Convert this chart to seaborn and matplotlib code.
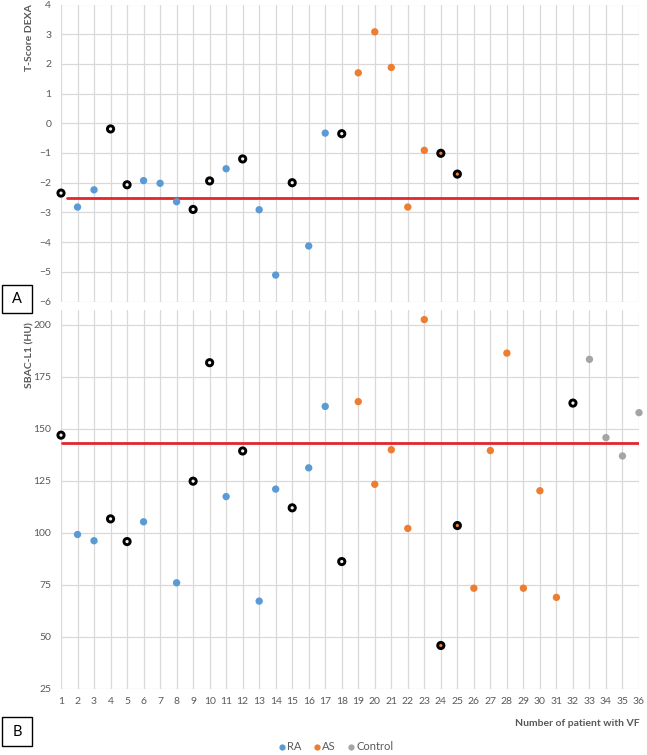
import numpy as np
import pandas as pd
import matplotlib
matplotlib.use("Agg")
import matplotlib.pyplot as plt
import matplotlib.patches as mpatches
from matplotlib.lines import Line2D
import seaborn as sns

# --- data ---
groups = ["RA", "AS", "Control"]
group_colors = {"RA": "#5B9BD5", "AS": "#ED7D31", "Control": "#A5A5A5"}

# panel A: T-score DEXA
patients_a = list(range(1, 26))
tscore = [-2.35, -2.82, -2.24, -0.19, -2.07, -1.93, -2.02, -2.64, -2.90, -1.94,
          -1.53, -1.20, -2.91, -5.11, -2.00, -4.13, -0.33, -0.35, 1.70, 3.08,
          1.88, -2.82, -0.91, -1.01, -1.71]
group_a = ["RA"] * 18 + ["AS"] * 7
marked_a = [1, 4, 5, 9, 10, 12, 15, 18, 24, 25]

# panel B: SBAC-L1 (HU)
patients_b = [1, 2, 3, 4, 5, 6, 8, 9, 10, 11, 12, 13, 14, 15, 16, 17, 18,
              19, 20, 21, 22, 23, 24, 25, 26, 27, 28, 29, 30, 31, 32,
              33, 34, 35, 36]
sbac = [146.9, 99.2, 96.2, 106.7, 95.8, 105.3, 76.0, 124.8, 181.7, 117.4,
        139.3, 67.2, 121.0, 112.0, 131.2, 160.7, 86.2,
        163.0, 123.3, 139.9, 102.1, 202.4, 45.9, 103.5, 73.4, 139.5, 186.3,
        73.4, 120.2, 69.0, 162.3,
        183.3, 145.7, 136.9, 157.7]
group_b = ["RA"] * 17 + ["AS"] * 13 + ["Control"] * 5
marked_b = [1, 4, 5, 9, 10, 12, 15, 18, 24, 25, 32]

threshold_a = -2.5
threshold_b = 142.9

df_a = pd.DataFrame({"patient": patients_a, "value": tscore, "group": group_a})
df_a["marked"] = df_a["patient"].isin(marked_a)
df_b = pd.DataFrame({"patient": patients_b, "value": sbac, "group": group_b})
df_b["marked"] = df_b["patient"].isin(marked_b)

sns.set_style("white")
plt.rcParams["font.family"] = ["Lato", "DejaVu Sans"]

text_col = "#595959"
grid_col = "#D9D9D9"

fig = plt.figure(figsize=(6.47, 7.55), dpi=100)
ax_a = fig.add_axes([61 / 647, 1 - 301.5 / 755, 578 / 647, 297 / 755])
ax_b = fig.add_axes([61 / 647, 1 - 689 / 755, 578 / 647, 379 / 755])


def draw_panel(ax, df, threshold, line_start):
    plain = df[~df["marked"]]
    sns.scatterplot(data=plain, x="patient", y="value", hue="group",
                    palette=group_colors, hue_order=groups, s=28,
                    linewidth=0, legend=False, ax=ax, zorder=3, clip_on=False)
    marked = df[df["marked"]]
    faces = [group_colors["AS"] if g == "AS" else "#f2f2f2" for g in marked["group"]]
    ax.scatter(marked["patient"], marked["value"], s=20, c=faces,
               edgecolors="black", linewidths=2.1, zorder=4, clip_on=False)
    ax.axhline(threshold, xmin=line_start, xmax=1.0, color="#E3262E",
               lw=2.0, zorder=2)
    ax.set_xlim(1, 36)
    ax.set_xticks(range(1, 37))
    ax.grid(True, color=grid_col, lw=0.9)
    ax.set_axisbelow(True)
    for sp in ax.spines.values():
        sp.set_visible(False)
    ax.tick_params(length=0, colors=text_col, labelsize=7.5, pad=7)
    ax.set_xlabel("")
    ax.set_ylabel("")


draw_panel(ax_a, df_a, threshold_a, 0.011)
ax_a.set_ylim(-6, 4)
ax_a.set_yticks(range(-6, 5))
ax_a.tick_params(axis="x", labelbottom=False)

draw_panel(ax_b, df_b, threshold_b, 0.002)
ax_b.set_ylim(25, 207)
ax_b.set_yticks(range(25, 201, 25))
ax_b.tick_params(axis="x", pad=6)

# axis titles
fig.text(30 / 647, 1 - 38 / 755, "T-Score DEXA", rotation=90, ha="center",
         va="center", fontsize=7.5, fontweight="bold", color=text_col)
fig.text(30 / 647, 1 - 355 / 755, "SBAC-L1 (HU)", rotation=90, ha="center",
         va="center", fontsize=7.5, fontweight="bold", color=text_col)
fig.text(640 / 647, 1 - 724 / 755, "Number of patient with VF", ha="right",
         va="center", fontsize=7.5, fontweight="bold", color=text_col)

# panel letters
for letter, ytop, ybot in [("A", 285, 313), ("B", 717, 746)]:
    rect = mpatches.Rectangle((2 / 647, 1 - ybot / 755), 30 / 647,
                              (ybot - ytop) / 755, transform=fig.transFigure,
                              facecolor="white", edgecolor="black", lw=1.0)
    fig.patches.append(rect)
    fig.text(17 / 647, 1 - (ytop + ybot) / 2 / 755, letter, ha="center",
             va="center", fontsize=10.5, color="black")

# legend
handles = [Line2D([], [], marker="o", ls="", markersize=4.5,
                  markerfacecolor=group_colors[g], markeredgewidth=0, label=g)
           for g in groups]
fig.legend(handles=handles, loc="center", bbox_to_anchor=(335 / 647, 1 - 747 / 755),
           ncol=3, frameon=False, fontsize=8, handletextpad=0.05,
           columnspacing=0.9, handlelength=0.9, labelcolor=text_col)

fig.savefig("out.png", dpi=100)
